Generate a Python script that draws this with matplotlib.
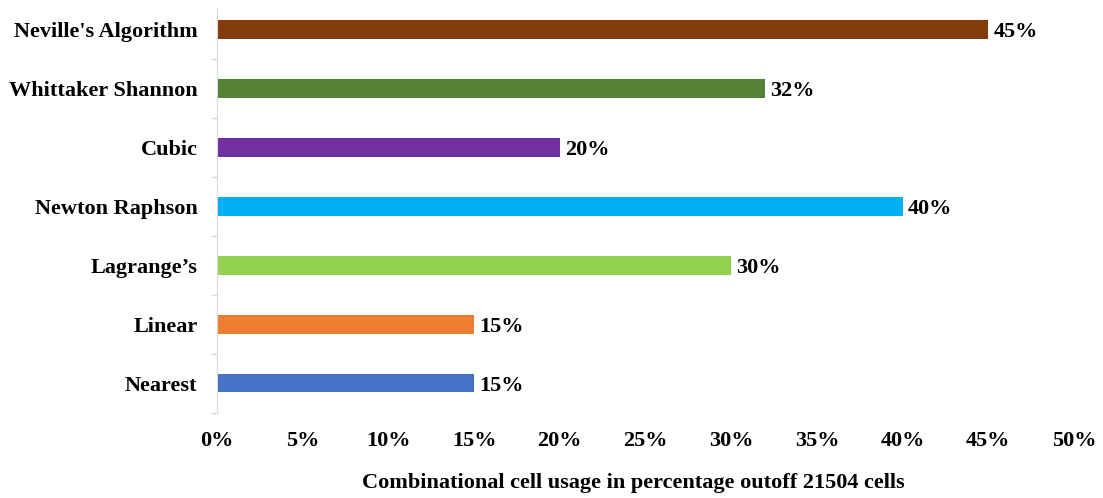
import matplotlib
matplotlib.use("Agg")
import matplotlib.pyplot as plt
from matplotlib.ticker import FixedLocator, PercentFormatter

categories = ["Nearest", "Linear", "Lagrange\u2019s", "Newton Raphson", "Cubic",
              "Whittaker Shannon", "Neville's Algorithm"]
usage_pct = [15, 15, 30, 40, 20, 32, 45]
bar_colors = ["#4472C4", "#ED7D31", "#92D050", "#00B0F0", "#7030A0", "#548235", "#843C0C"]
x_ticks = [0, 5, 10, 15, 20, 25, 30, 35, 40, 45, 50]
x_label = "Combinational cell usage in percentage outoff 21504 cells"

plt.rcParams["font.family"] = ["Liberation Serif", "DejaVu Serif"]
plt.rcParams["font.weight"] = "bold"
FS = 16

W, H = 1103, 498
fig = plt.figure(figsize=(W / 100, H / 100), dpi=100)
ax = fig.add_axes([217 / W, (H - 412.5) / H, (1074 - 217) / W, 412.5 / H])

y = list(range(len(categories)))
ax.barh(y, usage_pct, height=0.32, color=bar_colors)
for yi, v in zip(y, usage_pct):
    ax.text(v + 0.3, yi, f"{v}%", va="center_baseline", ha="left",
            fontsize=FS, fontweight="bold")

ax.set_xlim(0, 50)
ax.set_ylim(-0.5, len(categories) - 0.5)
ax.set_xticks(x_ticks)
ax.xaxis.set_major_formatter(PercentFormatter(decimals=0))
ax.set_yticks(y)
ax.set_yticklabels(categories)
ax.yaxis.set_minor_locator(FixedLocator([i + 0.5 for i in range(-1, len(categories) - 1)]))

ax.tick_params(axis="x", length=0, pad=13, labelsize=FS)
ax.tick_params(axis="y", which="major", length=0, pad=14, labelsize=FS)
ax.tick_params(axis="y", which="minor", length=4.5, width=1, color="#D9D9D9")

for s in ("top", "right", "bottom"):
    ax.spines[s].set_visible(False)
ax.spines["left"].set_color("#D9D9D9")
ax.spines["left"].set_bounds(-0.5, len(categories) - 0.64)

fig.text(633 / W, 1 - 483 / H, x_label, ha="center", va="center",
         fontsize=FS, fontweight="bold")

fig.savefig("out.png", dpi=100)
